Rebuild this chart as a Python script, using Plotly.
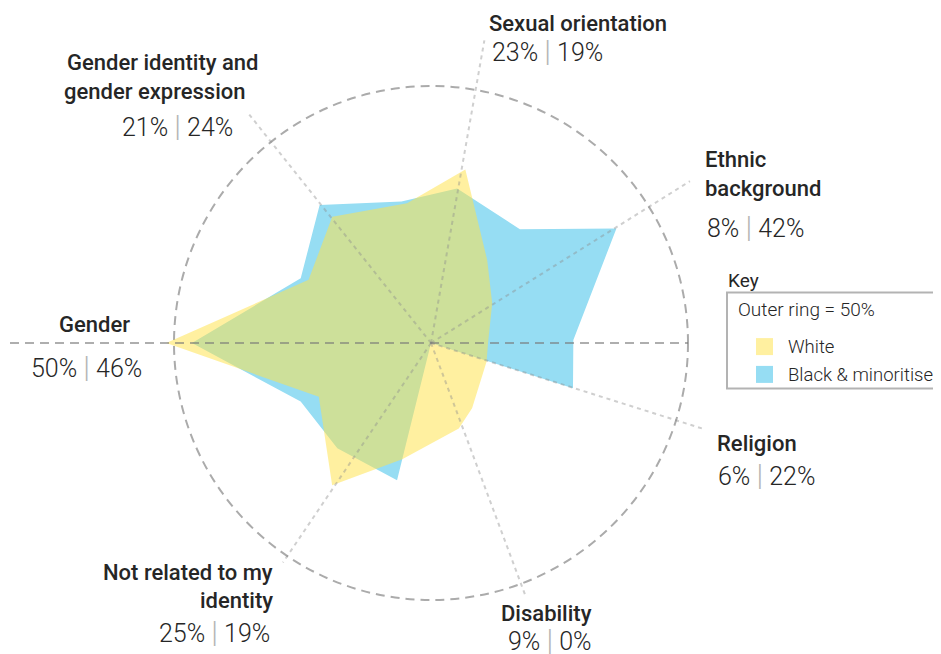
import plotly.graph_objects as go

# page is 941x654; the browser body adds an 8px margin, so the figure is drawn
# 8px smaller and every page position below is shifted by OFF.
PAGE_W, PAGE_H = 941, 654
OFF = 8
W, H = PAGE_W - OFF, PAGE_H - OFF

# ---------------- data ----------------
categories = ["Sexual orientation", "Ethnic background", "Religion", "Disability",
              "Not related to my identity", "Gender", "Gender identity and gender expression"]
category_lines = [["Sexual orientation"], ["Ethnic", "background"], ["Religion"], ["Disability"],
                  ["Not related to my", "identity"], ["Gender"], ["Gender identity and", "gender expression"]]
white_pct = [23, 8, 6, 9, 25, 50, 21]
black_pct = [19, 42, 22, 0, 19, 46, 24]

# angle (degrees, counter-clockwise from east) of each labelled spoke, as drawn
axis_theta = [80, 32, -17.5, -69.5, -124, 180, 128.5]
# how far each dotted spoke runs (in % units, outer ring = 50)
guide_len = [59.8, 59.4, 55.9, 52.5, 51.5, None, 56.8]

# outline of the drawn shapes (angle in degrees, radius in %)
white_theta = [78.8, 55.9, 33.0, 0, -18.6, -57.8, -72.0, -103.9, -124.8, -154.4, 180, 152.7, 128.0, 99.7]
white_r = [34.4, 19.5, 14.2, 11.1, 11.4, 15.0, 17.5, 23.3, 33.7, 24.2, 51.5, 26.8, 31.2, 27.6]
black_theta = [80.4, 52.0, 31.7, 1.2, -17.7, -69.5, -103.9, -103.9, -131.7, -155.8, 180, 153.6, 128.9, 101.8]
black_r = [30.5, 28.1, 42.4, 27.7, 29.0, 0, 23.3, 27.5, 27.4, 27.8, 46.5, 28.3, 34.5, 28.1]

series_names = ["White", "Black & minoritised"]
key_title = "Key"
outer_ring = 50
key_note = f"Outer ring = {outer_ring}%"

# ---------------- layout constants (page pixels) ----------------
CX, CY, R50 = 431 - OFF, 343 - OFF, 257
RMAX_PX = 311
rmax = outer_ring * RMAX_PX / R50

WHITE_FILL = "rgba(255,226,72,0.52)"
WHITE_KEY = "rgb(255,240,160)"
BLACK_FILL = "rgb(150,221,243)"
TEXT = "#262626"
FONT = "Roboto"

fig = go.Figure()

fig.add_trace(go.Scatterpolar(
    r=black_r + [black_r[0]], theta=black_theta + [black_theta[0]],
    mode="lines", fill="toself", fillcolor=BLACK_FILL, line=dict(width=0),
    name=series_names[1], hoverinfo="skip", showlegend=False))
fig.add_trace(go.Scatterpolar(
    r=white_r + [white_r[0]], theta=white_theta + [white_theta[0]],
    mode="lines", fill="toself", fillcolor=WHITE_FILL, line=dict(width=0),
    name=series_names[0], hoverinfo="skip", showlegend=False))

gr, gt = [], []
for a, L in zip(axis_theta, guide_len):
    if L is None:
        continue
    gr += [0, L, None]
    gt += [a, a, None]
fig.add_trace(go.Scatterpolar(
    r=gr, theta=gt, mode="lines", connectgaps=False,
    line=dict(color="rgba(140,140,140,0.42)", width=2, dash="4px,4px"),
    hoverinfo="skip", showlegend=False))

fig.update_layout(
    width=W, height=H, autosize=False,
    margin=dict(l=0, r=0, t=0, b=0),
    paper_bgcolor="white", plot_bgcolor="white",
    showlegend=False,
    polar=dict(
        domain=dict(x=[(CX - RMAX_PX) / W, (CX + RMAX_PX) / W],
                    y=[max(0, (H - CY - RMAX_PX) / H), min(1, (H - CY + RMAX_PX) / H)]),
        bgcolor="rgba(0,0,0,0)",
        radialaxis=dict(range=[0, rmax], tickvals=[outer_ring], showticklabels=False,
                        ticks="", showline=False, gridcolor="#ababab", gridwidth=2,
                        griddash="9px,6px"),
        angularaxis=dict(type="linear", thetaunit="degrees", rotation=0,
                         direction="counterclockwise", showgrid=False, showline=False,
                         showticklabels=False, ticks=""),
    ),
)


def px(x, y):
    """page pixel -> paper coordinate"""
    return (x - OFF) / W, 1 - (y - OFF) / H


# horizontal dashed diameter (extends left past the ring)
x0p, yp = px(10, 343)
x1p, _ = px(431 + R50, 343)
fig.add_shape(type="line", xref="paper", yref="paper",
              x0=x0p, x1=x1p, y0=yp, y1=yp,
              line=dict(color="rgba(120,120,120,0.6)", width=2, dash="9px,6px"), layer="above")


def text(t, x, y, size, weight, anchor="center", color=TEXT):
    xx, yy = px(x, y)
    fig.add_annotation(x=xx, y=yy, xref="paper", yref="paper", text=t, showarrow=False,
                       xanchor=anchor, yanchor="middle",
                       font=dict(family=FONT, size=size, weight=weight, color=color))


def nums(i):
    return (f"{white_pct[i]}% <span style='color:#b5b5b5;font-size:30px'>|</span> "
            f"{black_pct[i]}%")


# label placement (page pixels): (title line positions, number position)
label_pos = [
    ([(577.5, 23, "center")], (547.5, 51, "center")),
    ([(703, 159.5, "left"), (703, 188.5, "left")], (705, 226, "left")),
    ([(715, 443, "left")], (716, 474.5, "left")),
    ([(546, 613, "center")], (549.5, 639, "center")),
    ([(275, 572, "right"), (275, 600, "right")], (272, 631, "right")),
    ([(94, 324.5, "center")], (86.3, 366.5, "center")),
    ([(162.5, 63, "center"), (154, 91.7, "center")], (177.5, 125.5, "center")),
]

for i, (lines_pos, npos) in enumerate(label_pos):
    for line, (x, y, anc) in zip(category_lines[i], lines_pos):
        text(line, x, y, 22, 500, anc)
    text(nums(i), npos[0], npos[1], 25, 300, npos[2])

# ---------------- key ----------------
text(key_title, 726, 280, 19, 400, "left")
bx0, by0 = px(727, 292.5)
bx1, by1 = px(990, 388.5)
fig.add_shape(type="rect", xref="paper", yref="paper",
              x0=bx0, x1=bx1, y0=by0, y1=by1,
              line=dict(color="#b3b3b3", width=2), fillcolor="rgba(0,0,0,0)")
text(key_note, 736, 309.3, 19, 300, "left")
for name, col, yc in [(series_names[0], WHITE_KEY, 346.6),
                      (series_names[1], BLACK_FILL, 374.4)]:
    sx0, sy0 = px(756, yc - 8.5)
    sx1, sy1 = px(773, yc + 8.5)
    fig.add_shape(type="rect", xref="paper", yref="paper",
                  x0=sx0, x1=sx1, y0=sy0, y1=sy1,
                  line=dict(width=0), fillcolor=col)
    text(name, 786, yc + 0.7, 18.5, 300, "left")

fig.write_html("out.html")
